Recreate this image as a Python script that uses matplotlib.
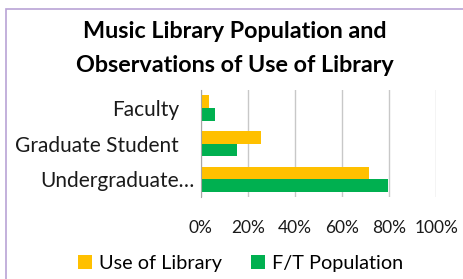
import matplotlib

matplotlib.use("Agg")

import matplotlib.pyplot as plt
import numpy as np
from matplotlib.patches import Rectangle
from matplotlib.transforms import ScaledTranslation

CATEGORIES = ["Faculty", "Graduate Student", "Undergraduate…"]
USE_OF_LIBRARY = [3.5, 25.5, 71.6]
FT_POPULATION = [6.0, 15.3, 79.4]
XTICKS = [0, 20, 40, 60, 80, 100]
SERIES_LABELS = ["Use of Library", "F/T Population"]

YELLOW = "#FFC000"
GREEN = "#00B050"

plt.rcParams["font.family"] = ["Lato", "DejaVu Sans"]

W, H = 464, 279
fig = plt.figure(figsize=(W / 100, H / 100), dpi=100)

# purple chart frame (right and bottom run off the image)
fig.patches.append(Rectangle((6 / W, -0.1), 1.2, 1 - 9 / H + 0.1,
                             transform=fig.transFigure, fill=False,
                             edgecolor="#B9A3D6", linewidth=1.2))

ax = fig.add_axes([200.7 / W, 1 - 197.3 / H, 235.5 / W, 107.3 / H])
y = np.arange(len(CATEGORIES))
h = 0.355
ax.barh(y - h / 2, USE_OF_LIBRARY, height=h, color=YELLOW, label=SERIES_LABELS[0])
ax.barh(y + h / 2, FT_POPULATION, height=h, color=GREEN, label=SERIES_LABELS[1])
ax.set_ylim(2.5, -0.5)
ax.set_xlim(0, 100)
ax.set_yticks(y)
ax.set_yticklabels(CATEGORIES, fontsize=15.0, color="#1a1a1a")
ax.set_xticks(XTICKS)
ax.set_xticklabels([f"{t}%" for t in XTICKS], fontsize=12.5, color="#1a1a1a")
ax.tick_params(length=0)
ax.tick_params(axis="y", pad=15.5)
ax.tick_params(axis="x", pad=16)
# truncated label hangs its ellipsis past the others
last = ax.get_yticklabels()[-1]
last.set_transform(last.get_transform() + ScaledTranslation(0.15, 0, fig.dpi_scale_trans))
ax.grid(axis="x", color="#C8C8C8", linewidth=1)
ax.set_axisbelow(True)
for side in ["top", "right", "bottom"]:
    ax.spines[side].set_visible(False)
ax.spines["left"].set_color("#A6A6A6")

fig.text(0.5 + 3 / W, 1 - 31 / H, "Music Library Population and", ha="center",
         va="center", fontsize=16.8, fontweight="bold", color="black")
fig.text(0.5 + 3 / W, 1 - 65 / H, "Observations of Use of Library", ha="center",
         va="center", fontsize=16.8, fontweight="bold", color="black")

fig.legend(loc="center", bbox_to_anchor=(240.5 / W, 1 - 263 / H), ncol=2,
           frameon=False, fontsize=14.3, handlelength=0.7, handleheight=0.7,
           handletextpad=0.35, columnspacing=1.45)

fig.savefig("out.png", dpi=100)
